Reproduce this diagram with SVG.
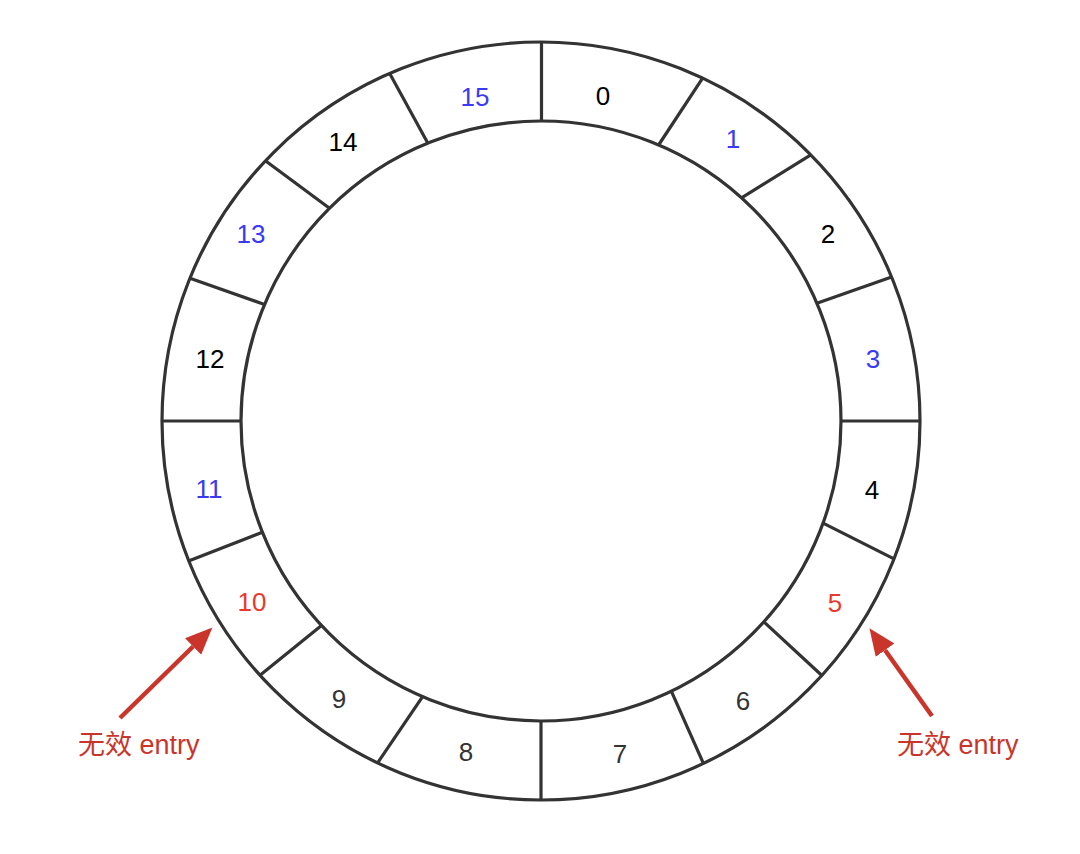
<svg xmlns="http://www.w3.org/2000/svg" width="1080" height="854" viewBox="0 0 1080 854">
<style>
.ring{fill:none;stroke:#333;stroke-width:3.2}
.div{stroke:#333;stroke-width:3.2}
.lbl{font-family:"Liberation Sans","Noto Sans CJK SC",sans-serif;font-size:26px;text-anchor:middle}
.k{fill:#000}.g{fill:#333}.b{fill:#3a3af2}.r{fill:#e8392b}
.note{font-family:"Liberation Sans","Noto Sans CJK SC",sans-serif;font-size:27px;fill:#c9352a}
.arr{stroke:#c9352a;stroke-width:4.5;fill:none}
</style>
<defs>
<marker id="ah" markerUnits="userSpaceOnUse" markerWidth="28" markerHeight="24" viewBox="0 -12 28 24" refX="0" refY="0" orient="auto">
<path d="M0,-11.5 L27,0 L0,11.5 Z" fill="#c9352a"/>
</marker>
</defs>
<rect width="1080" height="854" fill="#fff"/>
<g id="ring">
<circle class="ring" cx="541" cy="421" r="379"/>
<circle class="ring" cx="541" cy="421" r="300"/>
</g>
<g id="dividers">
<line class="div" x1="541.5" y1="121" x2="541.5" y2="42"/>
<line class="div" x1="658.6" y1="145" x2="702.6" y2="78.1"/>
<line class="div" x1="741.5" y1="197.9" x2="810.8" y2="154.8"/>
<line class="div" x1="816.9" y1="303.2" x2="891.6" y2="277.1"/>
<line class="div" x1="841" y1="421" x2="920" y2="421"/>
<line class="div" x1="823.1" y1="523.1" x2="894" y2="558.9"/>
<line class="div" x1="763.9" y1="621.9" x2="821.9" y2="675.5"/>
<line class="div" x1="671.3" y1="691.2" x2="703.4" y2="763.4"/>
<line class="div" x1="541" y1="721" x2="541" y2="800"/>
<line class="div" x1="422.6" y1="696.6" x2="377.3" y2="763.3"/>
<line class="div" x1="321.5" y1="625.5" x2="260" y2="675.3"/>
<line class="div" x1="262.4" y1="532.3" x2="188.6" y2="560.9"/>
<line class="div" x1="241" y1="421" x2="162" y2="421"/>
<line class="div" x1="264.5" y1="304.5" x2="190" y2="278.3"/>
<line class="div" x1="329.5" y1="208.2" x2="265.4" y2="160.8"/>
<line class="div" x1="427.9" y1="143.2" x2="389.7" y2="73.5"/>
</g>
<g id="labels">
<g id="n0"><text class="lbl k" x="603" y="105">0</text></g>
<g id="n1"><text class="lbl b" x="733" y="148">1</text></g>
<g id="n2"><text class="lbl k" x="828" y="243">2</text></g>
<g id="n3"><text class="lbl b" x="873" y="368">3</text></g>
<g id="n4"><text class="lbl k" x="872" y="499">4</text></g>
<g id="n5"><text class="lbl r" x="835" y="612">5</text></g>
<g id="n6"><text class="lbl g" x="743" y="710">6</text></g>
<g id="n7"><text class="lbl g" x="620" y="763">7</text></g>
<g id="n8"><text class="lbl g" x="466" y="761">8</text></g>
<g id="n9"><text class="lbl g" x="339" y="708">9</text></g>
<g id="n10"><text class="lbl r" x="252" y="611">10</text></g>
<g id="n11"><text class="lbl b" x="209" y="498">11</text></g>
<g id="n12"><text class="lbl k" x="210" y="368">12</text></g>
<g id="n13"><text class="lbl b" x="251" y="243">13</text></g>
<g id="n14"><text class="lbl k" x="343" y="151">14</text></g>
<g id="n15"><text class="lbl b" x="475" y="106">15</text></g>
</g>
<g id="connectors">
<line class="arr" x1="120" y1="718" x2="193.1" y2="646.5" marker-end="url(#ah)"/>
<line class="arr" x1="932" y1="716" x2="885.1" y2="650.2" marker-end="url(#ah)"/>
</g>
<g id="note-left"><text class="note" x="78" y="754">无效 entry</text></g>
<g id="note-right"><text class="note" x="897" y="754">无效 entry</text></g>
</svg>
